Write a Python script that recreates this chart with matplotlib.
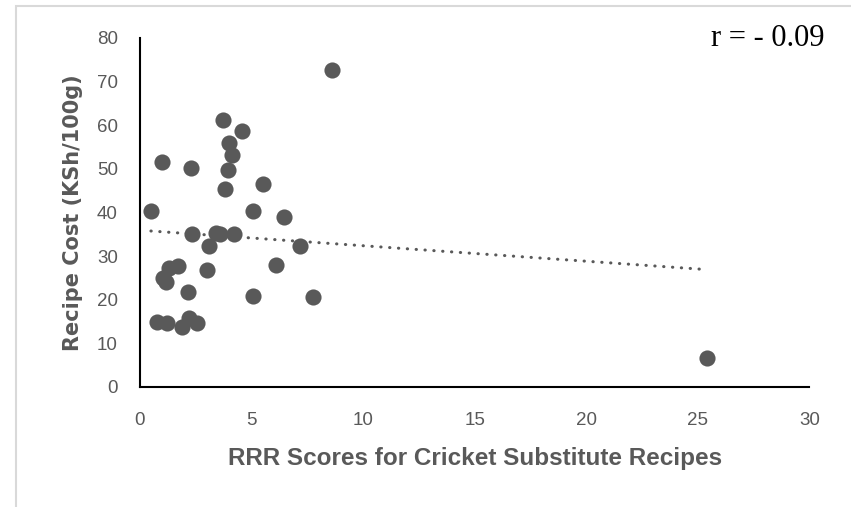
# Recipe cost vs RRR score scatter
# Requires: numpy, matplotlib

import numpy as np
import matplotlib.pyplot as plt
from matplotlib.patches import Rectangle

# -----------------------------
# 1. Data
# -----------------------------
rrr_score = [0.49, 0.97, 2.28, 3.73, 4.58, 4.00, 4.11, 3.96, 3.81, 5.05,
             5.52, 6.47, 7.17, 6.09, 5.08, 7.76, 8.59, 2.32, 3.41, 3.58,
             4.22, 3.10, 2.99, 1.72, 1.31, 1.04, 1.16, 2.14, 0.78, 1.20,
             2.21, 2.54, 1.87, 25.4]
recipe_cost = [40.2, 51.5, 50.1, 61.2, 58.6, 55.8, 53.1, 49.7, 45.3, 40.2,
               46.6, 39.0, 32.3, 27.9, 20.8, 20.6, 72.6, 35.0, 35.2, 35.0,
               35.0, 32.3, 26.8, 27.7, 27.2, 24.9, 24.0, 21.8, 15.0, 14.7,
               15.7, 14.7, 13.7, 6.6]

x_ticks = [0, 5, 10, 15, 20, 25, 30]
y_ticks = [0, 10, 20, 30, 40, 50, 60, 70, 80]
r_label = 'r = - 0.09'

grey = '#595959'

# -----------------------------
# 2. Figure + axes
# -----------------------------
fig = plt.figure(figsize=(8.51, 5.07), dpi=100)
ax = fig.add_axes([0.1645, 0.2367, 0.7867, 0.6889])

# light chart-area border (top and left edges visible)
fig.patches.append(Rectangle((16 / 851, -0.1), 1.2, 1 - 6 / 507 + 0.1,
                             transform=fig.transFigure, fill=False,
                             edgecolor='#d9d9d9', linewidth=1.5))

# -----------------------------
# 3. Scatter + linear trendline
# -----------------------------
ax.scatter(rrr_score, recipe_cost, s=135, color=grey, zorder=3, linewidths=0)

x = np.array(rrr_score)
slope, intercept = np.polyfit(x, recipe_cost, 1)
xs = np.array([x.min(), x.max()])
ax.plot(xs, slope * xs + intercept, color=grey, linewidth=2.2,
        linestyle=(0, (0.1, 2.8)), dash_capstyle='round', zorder=2)

# -----------------------------
# 4. Axes styling
# -----------------------------
ax.set_xlim(0, 30)
ax.set_ylim(0, 80)
ax.set_xticks(x_ticks)
ax.set_yticks(y_ticks)
ax.spines['top'].set_visible(False)
ax.spines['right'].set_visible(False)
ax.spines['left'].set_linewidth(1.5)
ax.spines['bottom'].set_linewidth(1.5)
ax.tick_params(length=0, labelsize=13.5, labelcolor=grey)
ax.tick_params(axis='x', pad=18)
ax.tick_params(axis='y', pad=16)
for lab in ax.get_xticklabels() + ax.get_yticklabels():
    lab.set_family('Liberation Sans')

ax.set_xlabel('RRR Scores for Cricket Substitute Recipes', fontsize=17.5,
              fontweight='bold', color=grey, family='Liberation Sans', labelpad=13)
ax.set_ylabel('Recipe Cost (KSh/100g)', fontsize=15, fontweight='bold',
              color=grey, family='DejaVu Sans', labelpad=10)

fig.text(0.969, 0.925, r_label, ha='right', va='center', fontsize=22,
         family='Liberation Serif', color='black')

plt.savefig('out.png', dpi=100)
